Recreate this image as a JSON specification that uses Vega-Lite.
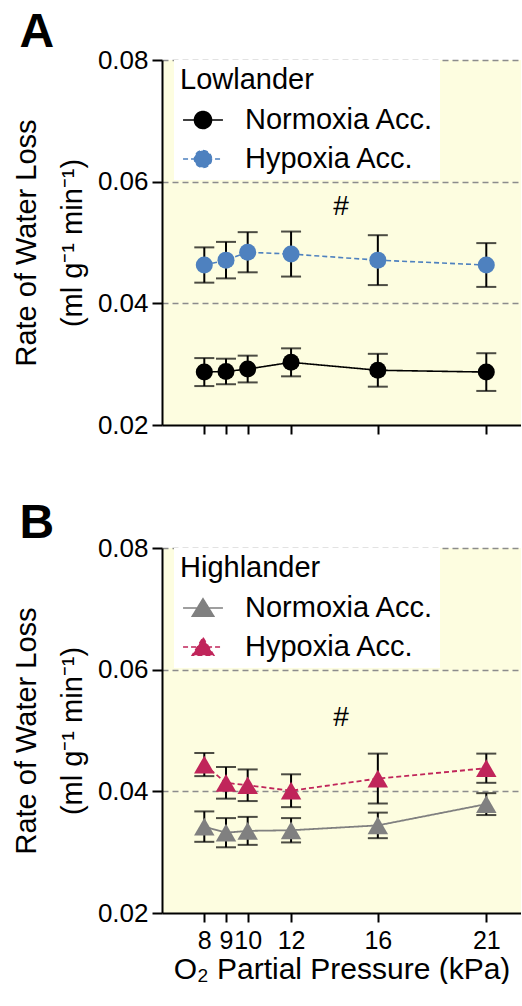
{
  "$schema": "https://vega.github.io/schema/vega-lite/v6.json",
  "padding": {"left": 12, "top": 9, "right": 0, "bottom": 0},
  "spacing": 62,
  "resolve": {"scale": {"color": "independent", "stroke": "independent", "strokeDash": "independent"}, "legend": {"color": "independent", "stroke": "independent", "strokeDash": "independent"}},
  "datasets": {
    "lowlander": [
      {"p": 8, "series": "Normoxia Acc.", "rate": 0.0287, "sem": 0.0023},
      {"p": 9, "series": "Normoxia Acc.", "rate": 0.0288, "sem": 0.0021},
      {"p": 10, "series": "Normoxia Acc.", "rate": 0.0292, "sem": 0.0022},
      {"p": 12, "series": "Normoxia Acc.", "rate": 0.0303, "sem": 0.0023},
      {"p": 16, "series": "Normoxia Acc.", "rate": 0.0290, "sem": 0.0027},
      {"p": 21, "series": "Normoxia Acc.", "rate": 0.0287, "sem": 0.0031},
      {"p": 8, "series": "Hypoxia Acc.", "rate": 0.0463, "sem": 0.0029},
      {"p": 9, "series": "Hypoxia Acc.", "rate": 0.0471, "sem": 0.0030},
      {"p": 10, "series": "Hypoxia Acc.", "rate": 0.0484, "sem": 0.0033},
      {"p": 12, "series": "Hypoxia Acc.", "rate": 0.0481, "sem": 0.0037},
      {"p": 16, "series": "Hypoxia Acc.", "rate": 0.0471, "sem": 0.0041},
      {"p": 21, "series": "Hypoxia Acc.", "rate": 0.0463, "sem": 0.0036}
    ],
    "highlander": [
      {"p": 8, "series": "Normoxia Acc.", "rate": 0.0342, "sem": 0.0025},
      {"p": 9, "series": "Normoxia Acc.", "rate": 0.0332, "sem": 0.0024},
      {"p": 10, "series": "Normoxia Acc.", "rate": 0.0335, "sem": 0.0023},
      {"p": 12, "series": "Normoxia Acc.", "rate": 0.0336, "sem": 0.0020},
      {"p": 16, "series": "Normoxia Acc.", "rate": 0.0344, "sem": 0.0021},
      {"p": 21, "series": "Normoxia Acc.", "rate": 0.0379, "sem": 0.0018},
      {"p": 8, "series": "Hypoxia Acc.", "rate": 0.0444, "sem": 0.0019},
      {"p": 9, "series": "Hypoxia Acc.", "rate": 0.0414, "sem": 0.0026},
      {"p": 10, "series": "Hypoxia Acc.", "rate": 0.0410, "sem": 0.0026},
      {"p": 12, "series": "Hypoxia Acc.", "rate": 0.0401, "sem": 0.0027},
      {"p": 16, "series": "Hypoxia Acc.", "rate": 0.0421, "sem": 0.0041},
      {"p": 21, "series": "Hypoxia Acc.", "rate": 0.0438, "sem": 0.0024}
    ],
    "noteA": [{"p": 14.3, "rate": 0.0558, "label": "#"}],
    "noteB": [{"p": 14.3, "rate": 0.0521, "label": "#"}]
  },
  "vconcat": [
    {
      "title": {"text": "A", "anchor": "start", "frame": "bounds", "fontSize": 48, "fontWeight": "bold", "baseline": "alphabetic", "offset": -48, "dx": 7, "color": "black"},
      "width": 359,
      "height": 365,
      "data": {"name": "lowlander"},
      "encoding": {
        "x": {"field": "p", "type": "quantitative", "scale": {"domain": [6.05, 22.6], "nice": false, "zero": false},
              "axis": {"values": [8, 9, 10, 12, 16, 21], "labels": false, "title": null, "grid": false, "tickSize": 9}},
        "y": {"field": "rate", "type": "quantitative", "scale": {"domain": [0.02, 0.08], "nice": false, "zero": false},
              "axis": {"values": [0.02, 0.04, 0.06, 0.08], "format": ".2f", "title": ["Rate of Water Loss", "(ml g⁻¹ min⁻¹)"]}}
      },
      "layer": [
        {
          "mark": {"type": "line", "strokeWidth": 1.6},
          "encoding": {
            "stroke": {"field": "series", "type": "nominal", "scale": {"domain": ["Normoxia Acc.", "Hypoxia Acc."], "range": ["#000000", "#4e81bf"]}},
            "strokeDash": {"field": "series", "type": "nominal", "scale": {"domain": ["Normoxia Acc.", "Hypoxia Acc."], "range": [[1, 0], [5, 3]]}}
          }
        },
        {
          "mark": {"type": "errorbar", "ticks": true, "size": 20, "thickness": 2, "color": "black"},
          "encoding": {"yError": {"field": "sem"}, "detail": {"field": "series"}}
        },
        {
          "mark": {"type": "point", "filled": true, "size": 290, "opacity": 1, "shape": "circle"},
          "encoding": {
            "color": {"field": "series", "type": "nominal", "scale": {"domain": ["Normoxia Acc.", "Hypoxia Acc."], "range": ["#000000", "#4e81bf"]},
              "legend": {"title": "Lowlander", "orient": "none", "legendX": 12, "legendY": 0,
                "symbolType": "M-1.33,0H1.33M0.57,0A0.57,0.57,0,1,1,-0.57,0A0.57,0.57,0,1,1,0.57,0Z",
                "encode": {"symbols": {"update": {
                  "fill": {"signal": "datum.value === 'Normoxia Acc.' ? '#000000' : '#4e81bf'"},
                  "stroke": {"signal": "datum.value === 'Normoxia Acc.' ? '#000000' : '#4e81bf'"},
                  "strokeDash": {"signal": "datum.value === 'Normoxia Acc.' ? [1, 0] : [4, 3]"}
                }}}}}
          }
        },
        {
          "data": {"name": "noteA"},
          "mark": {"type": "text", "fontSize": 28, "color": "black"},
          "encoding": {"text": {"field": "label"}}
        }
      ]
    },
    {
      "title": {"text": "B", "anchor": "start", "frame": "bounds", "fontSize": 48, "fontWeight": "bold", "baseline": "alphabetic", "offset": -51, "dx": 7, "color": "black"},
      "width": 359,
      "height": 365,
      "data": {"name": "highlander"},
      "encoding": {
        "x": {"field": "p", "type": "quantitative", "scale": {"domain": [6.05, 22.6], "nice": false, "zero": false},
              "axis": {"values": [8, 9, 10, 12, 16, 21], "title": "O₂ Partial Pressure (kPa)", "titleFontSize": 30, "labelFontSize": 25, "grid": false, "tickSize": 9, "labelOverlap": false, "labelPadding": 6, "titlePadding": 1}},
        "y": {"field": "rate", "type": "quantitative", "scale": {"domain": [0.02, 0.08], "nice": false, "zero": false},
              "axis": {"values": [0.02, 0.04, 0.06, 0.08], "format": ".2f", "title": ["Rate of Water Loss", "(ml g⁻¹ min⁻¹)"]}}
      },
      "layer": [
        {
          "mark": {"type": "line", "strokeWidth": 1.8},
          "encoding": {
            "stroke": {"field": "series", "type": "nominal", "scale": {"domain": ["Normoxia Acc.", "Hypoxia Acc."], "range": ["#808080", "#c0255a"]}},
            "strokeDash": {"field": "series", "type": "nominal", "scale": {"domain": ["Normoxia Acc.", "Hypoxia Acc."], "range": [[1, 0], [5, 3]]}}
          }
        },
        {
          "mark": {"type": "errorbar", "ticks": true, "size": 20, "thickness": 2, "color": "black"},
          "encoding": {"yError": {"field": "sem"}, "detail": {"field": "series"}}
        },
        {
          "mark": {"type": "point", "filled": true, "size": 420, "opacity": 1, "shape": "triangle-up"},
          "encoding": {
            "color": {"field": "series", "type": "nominal", "scale": {"domain": ["Normoxia Acc.", "Hypoxia Acc."], "range": ["#808080", "#c0255a"]},
              "legend": {"title": "Highlander", "orient": "none", "legendX": 12, "legendY": 0,
                "symbolType": "M-1.33,0H1.33M0,-0.62L0.72,0.55L-0.72,0.55Z",
                "encode": {"symbols": {"update": {
                  "fill": {"signal": "datum.value === 'Normoxia Acc.' ? '#808080' : '#c0255a'"},
                  "stroke": {"signal": "datum.value === 'Normoxia Acc.' ? '#808080' : '#c0255a'"},
                  "strokeDash": {"signal": "datum.value === 'Normoxia Acc.' ? [1, 0] : [4, 3]"}
                }}}}}
          }
        },
        {
          "data": {"name": "noteB"},
          "mark": {"type": "text", "fontSize": 28, "color": "black"},
          "encoding": {"text": {"field": "label"}}
        }
      ]
    }
  ],
  "config": {
    "font": "Liberation Sans",
    "view": {"fill": "#fdfde0", "stroke": null},
    "axis": {
      "domainColor": "black", "domainWidth": 2, "tickColor": "black", "tickWidth": 2,
      "labelColor": "black", "labelFontSize": 26, "titleColor": "black", "titleFontSize": 29, "titleFontWeight": "normal"
    },
    "axisY": {
      "tickSize": 10, "labelPadding": 4, "titlePadding": 10, "titleLineHeight": 46,
      "grid": true, "gridDash": [6, 4], "gridColor": {"condition": {"test": "datum.value < 0.03", "value": "transparent"}, "value": "#8c8c8c"}, "gridWidth": 1.5
    },
    "legend": {
      "fillColor": "white", "padding": 6, "titleFontSize": 29, "titleFontWeight": "normal", "titleColor": "black",
      "labelFontSize": 29, "labelColor": "black", "labelLimit": 400, "symbolOffset": 7, "labelOffset": 26,
      "rowPadding": 8, "titlePadding": 9, "symbolSize": 900, "symbolStrokeWidth": 1.5
    }
  }
}
